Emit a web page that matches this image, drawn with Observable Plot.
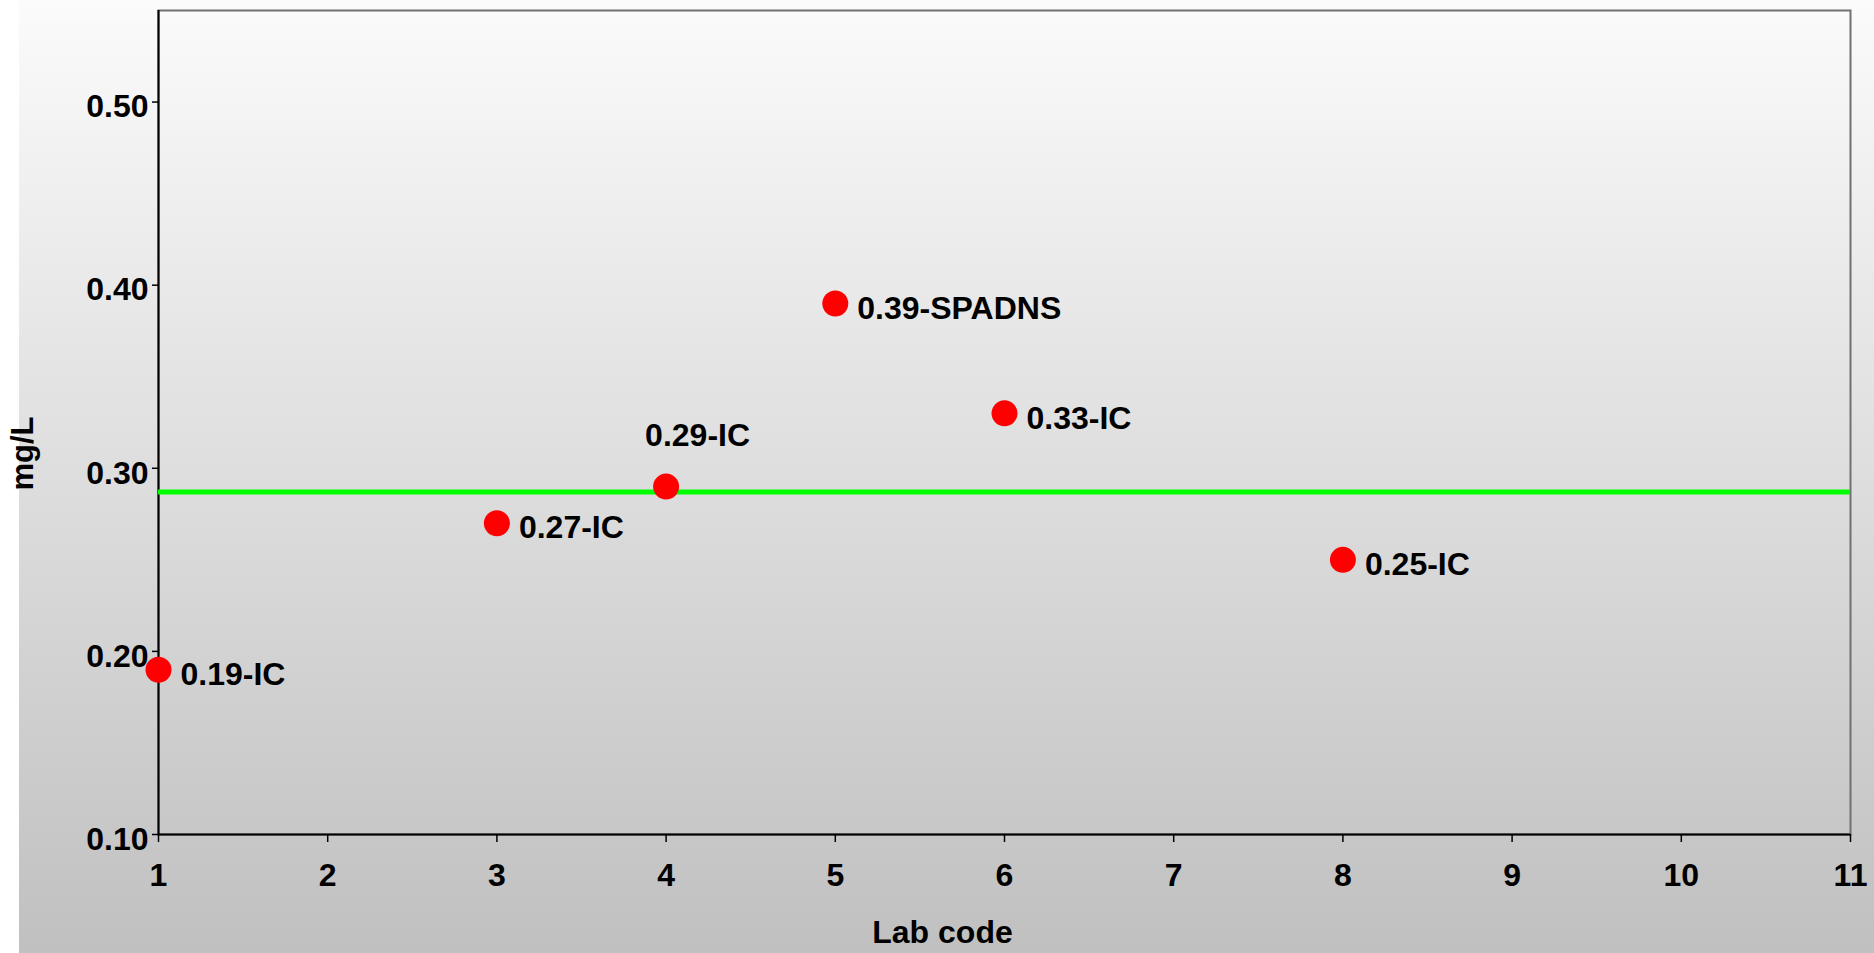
<!DOCTYPE html>
<html>
<head>
<meta charset="utf-8">
<script src="https://cdn.jsdelivr.net/npm/d3@7"></script>
<script src="https://cdn.jsdelivr.net/npm/@observablehq/plot@0.6"></script>
<style>
  html, body { margin: 0; padding: 0; background: white; }
</style>
</head>
<body>
<div id="chart"></div>
<script>
// ---- data ----
const labCodes = [1, 3, 4, 5, 6, 8];
const values   = [0.19, 0.27, 0.29, 0.39, 0.33, 0.25];
const methods  = ["IC", "IC", "IC", "SPADNS", "IC", "IC"];
const referenceValue = 0.287;
const xTicks = [1, 2, 3, 4, 5, 6, 7, 8, 9, 10, 11];
const yTicks = [0.10, 0.20, 0.30, 0.40, 0.50];
const xTitle = "Lab code";
const yTitle = "mg/L";

const data = labCodes.map((lab, i) => ({
  lab, value: values[i], label: d3.format(".2f")(values[i]) + "-" + methods[i]
}));

const chart = Plot.plot({
  width: 1874,
  height: 953,
  marginLeft: 158,
  marginRight: 24,
  marginTop: 10,
  marginBottom: 119,
  style: {
    background: "linear-gradient(#fbfbfb, #c0c0c0) 19px 0 / calc(100% - 19px) 100% no-repeat, white",
    fontFamily: "'Liberation Sans', Arial, sans-serif",
    fontWeight: "bold",
    fontSize: "32px",
    color: "black"
  },
  x: {domain: [1, 11]},
  y: {domain: [0.10, 0.55]},
  marks: [
    Plot.frame({stroke: "#707070", strokeWidth: 2}),
    Plot.ruleX([xTicks[0]], {stroke: "black", strokeWidth: 2}),
    Plot.ruleY([yTicks[0]], {stroke: "black", strokeWidth: 2}),
    Plot.axisX({ticks: xTicks, tickSize: 8, tickPadding: 21, label: null, tickFormat: d => String(d), strokeWidth: 1.5}),
    Plot.axisY({ticks: yTicks, tickSize: 6, tickFormat: () => "", label: null, strokeWidth: 1.5}),
    Plot.axisY({ticks: yTicks, tickSize: 0, tickPadding: 10, dy: 5, tickFormat: d3.format(".2f"), label: null}),
    Plot.ruleY([referenceValue], {stroke: "#00ff00", strokeWidth: 5}),
    Plot.dot(data, {x: "lab", y: "value", r: 13, fill: "#ff0000", stroke: null}),
    Plot.text(data.filter(d => d.lab !== 4), {
      x: "lab", y: "value", text: "label", textAnchor: "start",
      dx: 22, dy: 5, fontSize: 32, fontWeight: "bold", fill: "black"
    }),
    Plot.text(data.filter(d => d.lab === 4), {
      x: "lab", y: "value", text: "label", textAnchor: "start",
      dx: -21, dy: -51, fontSize: 32, fontWeight: "bold", fill: "black"
    }),
    Plot.text([yTitle], {
      frameAnchor: "left", text: d => d, rotate: -90, textAnchor: "middle",
      dx: -135, dy: 31, fontSize: 31, fontWeight: "bold", fill: "black"
    }),
    Plot.text([xTitle], {
      frameAnchor: "bottom", text: d => d, textAnchor: "middle",
      dx: -62, dy: 108, fontSize: 32, fontWeight: "bold", fill: "black"
    })
  ]
});

document.getElementById("chart").appendChild(chart);
</script>
</body>
</html>
